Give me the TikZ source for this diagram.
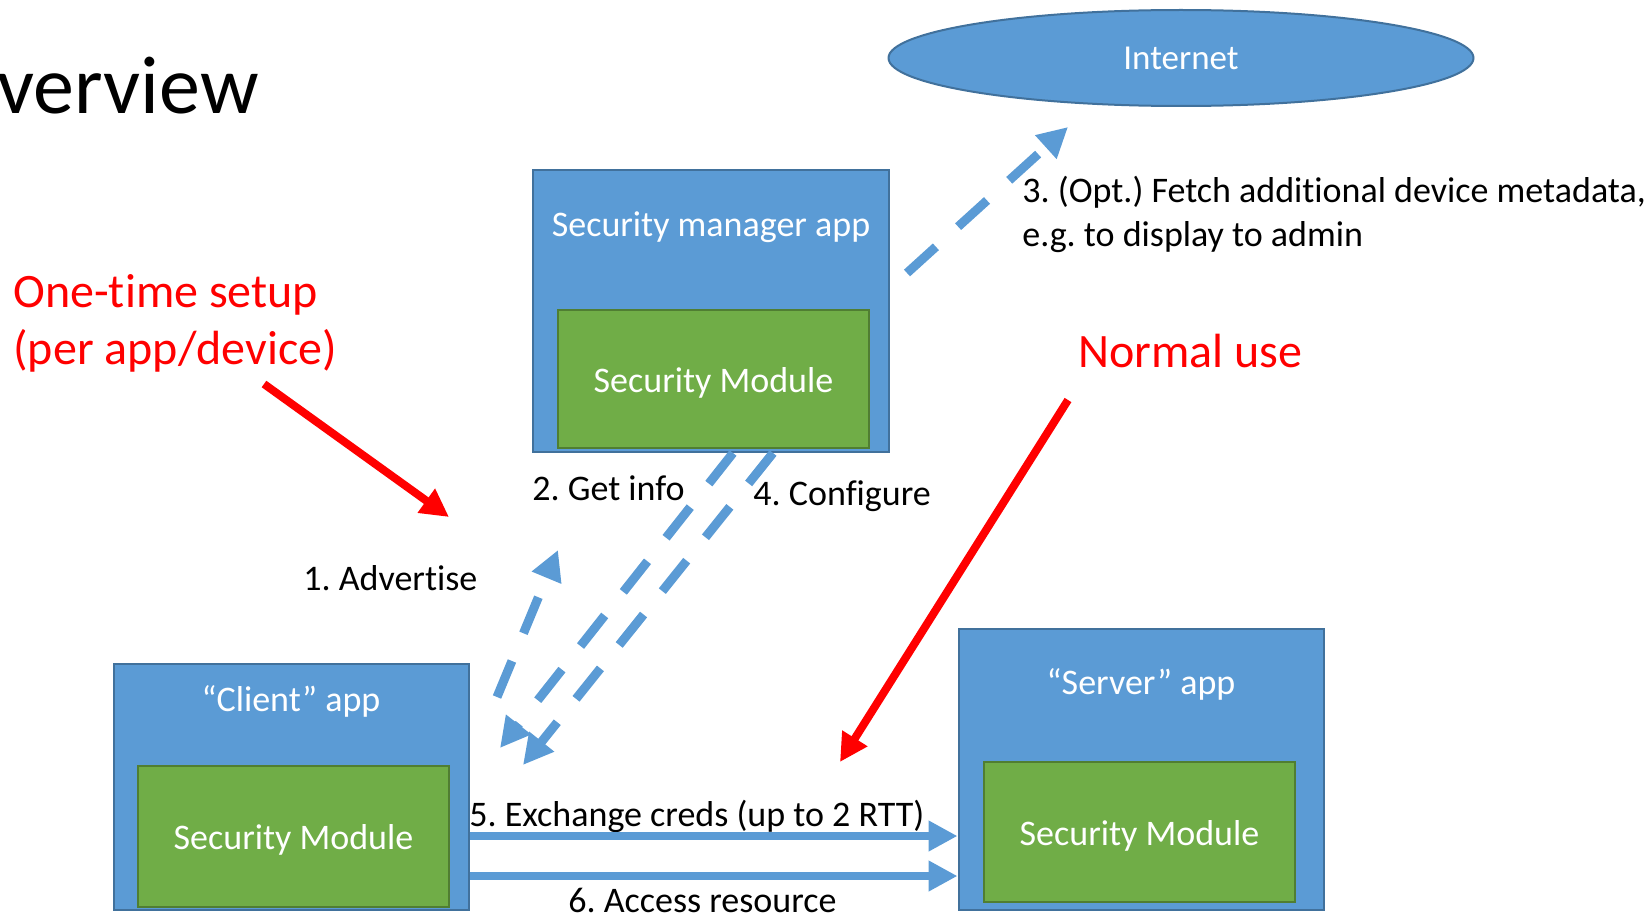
\documentclass[tikz,border=0pt]{standalone}
\usepackage{fontspec}
\setmainfont{Carlito}[Ligatures=NoCommon]
\usetikzlibrary{arrows.meta,shapes.geometric}
\definecolor{boxblue}{HTML}{5B9BD5}
\definecolor{boxblueline}{HTML}{41719C}
\definecolor{boxgreen}{HTML}{70AD47}
\definecolor{boxgreenline}{HTML}{507E32}
\frenchspacing
\begin{document}
\begin{tikzpicture}[x=0.5pt,y=-0.5pt,
  appbox/.style={draw=boxblueline, fill=boxblue, line width=1pt, inner sep=0pt},
  modbox/.style={draw=boxgreenline, fill=boxgreen, line width=1.2pt, inner sep=0pt,
    text=white, text height=13pt, text depth=0pt, font=\fontsize{18}{21}\selectfont},
  boxlabel/.style={text=white, inner sep=0pt, font=\fontsize{18}{21}\selectfont},
  lbl/.style={inner sep=0pt, font=\fontsize{18}{21}\selectfont},
  redlbl/.style={inner sep=0pt, text=red, font=\fontsize{24}{28}\selectfont},
  flow/.style={draw=boxblue, line width=4.5pt, dash pattern=on 19.5pt off 15pt,
    -{Triangle[length=15pt,width=15pt]}},
  solidflow/.style={draw=boxblue, line width=4.3pt, -{Triangle[length=14.5pt,width=14.5pt]}},
  redarrow/.style={draw=red, line width=4pt, -{Triangle[length=14pt,width=14pt]}}
]
\useasboundingbox (0,0) rectangle (1648,920);

% title
\node[anchor=base west, inner sep=0pt, font=\fontsize{41}{48}\selectfont] (title) at (-3,113) {verview};

% Internet
\node[ellipse, draw=boxblueline, fill=boxblue, line width=1pt, minimum width=292.5pt,
  minimum height=48pt, inner sep=0pt, text=white, font=\fontsize{17.5}{20}\selectfont]
  (internet) at (1181,58) {Internet};

% Security manager app
\node[appbox, minimum width=178pt, minimum height=141pt] (smapp) at (711,311) {};
\node[boxlabel] (smlabel) at (711,227) {Security manager app};
\node[modbox, minimum width=155.5pt, minimum height=69pt] (smmod) at (713.5,379) {Security Module};

% Client app
\node[appbox, minimum width=177.5pt, minimum height=123pt] (client) at (291.5,787) {};
\node[boxlabel] (cllabel) at (291,701) {“Client” app};
\node[modbox, minimum width=155.5pt, minimum height=70.5pt] (clmod) at (293.5,836.5) {Security Module};

% Server app
\node[appbox, minimum width=182.5pt, minimum height=140.5pt] (server) at (1141,769) {};
\node[boxlabel] (svlabel) at (1141,684) {“Server” app};
\node[modbox, minimum width=155.5pt, minimum height=70pt] (svmod) at (1139.5,832) {Security Module};

% red texts
\node[redlbl, anchor=base west] (setup1) at (13,307) {One-time setup};
\node[redlbl, anchor=base west] (setup2) at (13,364) {(per app/device)};
\node[redlbl, anchor=base west] (normal) at (1078,367) {Normal use};

% labels
\node[lbl, anchor=base west] (l1) at (303,590) {1. Advertise};
\node[lbl, anchor=base west] (l2) at (532,500) {2. Get info};
\node[lbl, anchor=base west] (l4) at (753,505) {4. Configure};
\node[lbl, anchor=base west] (l3a) at (1022,202) {3. (Opt.) Fetch additional device metadata,};
\node[lbl, anchor=base west] (l3b) at (1022,246) {e.g. to display to admin};
\node[lbl, anchor=base west] (l5) at (469,826) {5. Exchange creds (up to 2 RTT)};
\node[lbl, anchor=base west] (l6) at (568,912) {6. Access resource};

% coordinates for free ends
\coordinate (advS) at (497,697);
\coordinate (advE) at (558,550);
\coordinate (giE) at (500,748);
\coordinate (cfE) at (523,765);
\coordinate (fetchS) at (907,273);
\coordinate (fetchE) at (1068,127);
\coordinate (r1S) at (264,384);
\coordinate (r1E) at (449,517);
\coordinate (r2S) at (1068,400);
\coordinate (r2E) at (840,762);

% blue dashed arrows
\draw[flow] (advS) -- (advE);
\draw[flow] ([xshift=11pt]smapp.south) -- (giE);
\draw[flow] ([xshift=31pt]smapp.south) -- (cfE);
\draw[flow] (fetchS) -- (fetchE);

% solid arrows
\draw[solidflow] ([yshift=-24.5pt]client.east) -- ([yshift=-24.5pt]client.east -| server.west);
\draw[solidflow] ([yshift=-44.5pt]client.east) -- ([yshift=-44.5pt]client.east -| server.west);

% red arrows
\draw[redarrow] (r1S) -- (r1E);
\draw[redarrow] (r2S) -- (r2E);
\end{tikzpicture}
\end{document}
